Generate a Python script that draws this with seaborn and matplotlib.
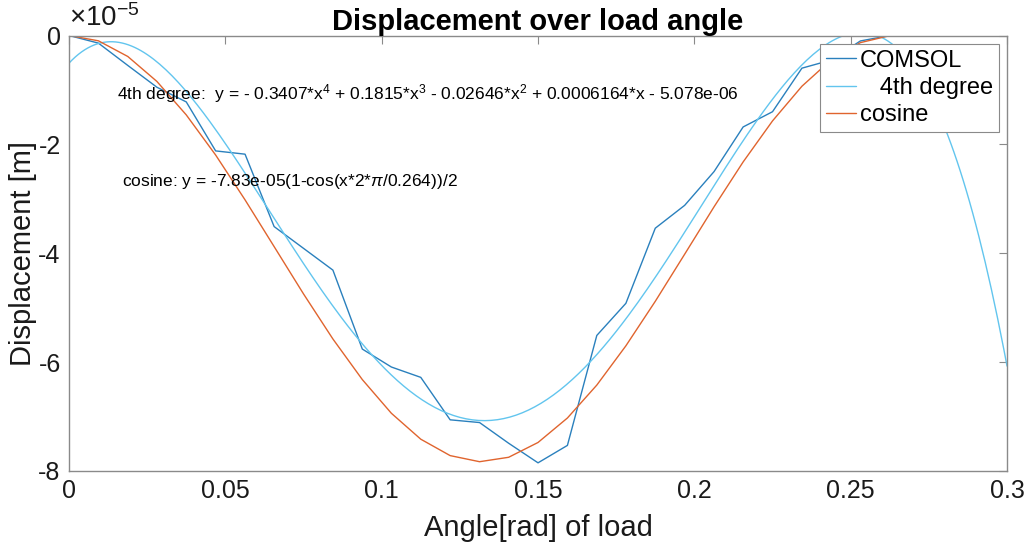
import numpy as np
import pandas as pd
import matplotlib
matplotlib.use("Agg")
import matplotlib.pyplot as plt
import seaborn as sns
from matplotlib.ticker import FuncFormatter

# Load angle [rad] of the COMSOL samples
angle = [0.0000, 0.0094, 0.0188, 0.0281, 0.0375, 0.0469, 0.0563, 0.0656,
         0.0750, 0.0844, 0.0938, 0.1031, 0.1125, 0.1219, 0.1313, 0.1406,
         0.1500, 0.1594, 0.1688, 0.1781, 0.1875, 0.1969, 0.2063, 0.2156,
         0.2250, 0.2344, 0.2438, 0.2531, 0.2625]

# COMSOL displacement in units of 1e-5 m
comsol_e5 = [0.00, -0.14, -0.55, -0.95, -1.22, -2.12, -2.18, -3.51,
             -3.91, -4.31, -5.76, -6.09, -6.28, -7.06, -7.11, -7.49,
             -7.85, -7.53, -5.51, -4.92, -3.54, -3.12, -2.50, -1.68,
             -1.40, -0.60, -0.45, -0.10, 0.00]

# Fitted models, as printed on the chart
poly_coeffs = [-0.3407, 0.1815, -0.02646, 0.0006164, -5.078e-06]
cos_amplitude = -7.83e-05
cos_period = 0.264

series_names = ["COMSOL", "   4th degree", "cosine"]
series_colors = ["#2a80bd", "#62c5ee", "#e0642e"]

x_ticks = [0, 0.05, 0.1, 0.15, 0.2, 0.25, 0.3]
y_ticks_e5 = [0, -2, -4, -6, -8]

poly_label = ("4th degree:  y = - 0.3407*x$^4$ + 0.1815*x$^3$ - 0.02646*x$^2$"
              " + 0.0006164*x - 5.078e-06")
cos_label = r"cosine: y = -7.83e-05(1-cos(x*2*$\pi$/0.264))/2"

sns.set_theme(style="white")
plt.rcParams.update({
    "font.family": ["Liberation Sans", "DejaVu Sans"],
    "axes.unicode_minus": False,
    "mathtext.fontset": "custom",
    "mathtext.rm": "Liberation Sans",
    "mathtext.it": "Liberation Sans:italic",
    "mathtext.bf": "Liberation Sans:bold",
    "text.color": "black",
    "axes.labelcolor": "black",
})

angle_arr = np.array(angle)
comsol = pd.DataFrame({"angle": angle_arr,
                       "disp": np.array(comsol_e5) * 1e-5})

x_fine = np.linspace(0, 0.3, 301)
poly_df = pd.DataFrame({"angle": x_fine, "disp": np.polyval(poly_coeffs, x_fine)})
cos_df = pd.DataFrame({
    "angle": angle_arr,
    "disp": cos_amplitude * (1 - np.cos(angle_arr * 2 * np.pi / cos_period)) / 2,
})

fig = plt.figure(figsize=(10.3, 5.53), dpi=100)
ax = fig.add_axes([0.067, 0.1483, 0.9107, 0.7875])

for df, name, col in zip([comsol, poly_df, cos_df], series_names, series_colors):
    sns.lineplot(data=df, x="angle", y="disp", ax=ax, color=col, lw=1.0,
                 label=name, estimator=None, sort=False)

ax.set_xlim(0, 0.3)
ax.set_ylim(-8e-5, 0)
ax.set_xticks(x_ticks)
ax.set_xticklabels([f"{t:g}" for t in x_ticks])
ax.set_yticks([v * 1e-5 for v in y_ticks_e5])
ax.yaxis.set_major_formatter(FuncFormatter(lambda v, _: f"{round(v * 1e5):d}"))
ax.text(0.0, 1.008, r"$\times10^{-5}$", transform=ax.transAxes,
        fontsize=20, ha="left", va="bottom", color="#1a1a1a")

edge = "#8a8a8a"
for sp in ax.spines.values():
    sp.set_color(edge)
    sp.set_linewidth(1.0)
ax.tick_params(direction="in", top=True, right=True, length=6, width=0.8,
               color=edge, labelsize=18, labelcolor="#1a1a1a", pad=6)

ax.set_title("Displacement over load angle", fontsize=21, fontweight="bold",
             pad=4, color="black")
ax.set_xlabel("Angle[rad] of load", fontsize=21, labelpad=8, color="#1a1a1a")
ax.set_ylabel("Displacement [m]", fontsize=21, labelpad=1, color="#1a1a1a")

ax.text(0.0154, -1.07e-5, poly_label, fontsize=12.5, va="center", ha="left",
        color="black")
ax.text(0.0170, -2.69e-5, cos_label, fontsize=12.5, va="center", ha="left",
        color="black")

leg = ax.legend(loc="upper right", bbox_to_anchor=(1, 1), fontsize=17,
                frameon=True, fancybox=False, framealpha=1, edgecolor=edge,
                borderpad=0.25, handlelength=1.3, handletextpad=0.15,
                labelspacing=0.22, borderaxespad=0.35)
leg.get_frame().set_linewidth(0.8)
for t in leg.get_texts():
    t.set_color("black")

fig.savefig("out.png", dpi=100)
